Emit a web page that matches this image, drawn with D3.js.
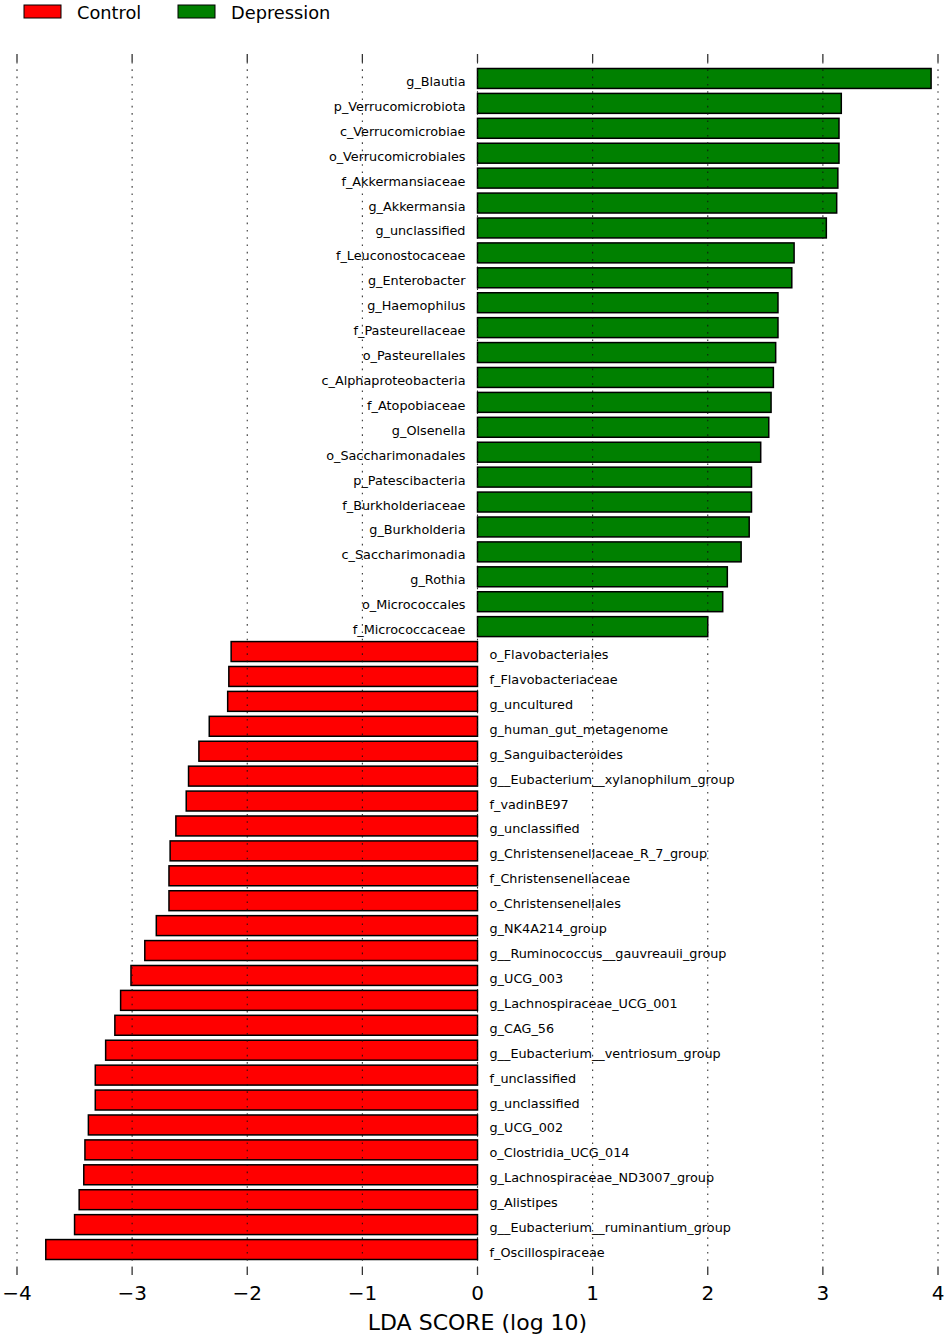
<!DOCTYPE html>
<html>
<head>
<meta charset="utf-8">
<script src="https://cdn.jsdelivr.net/npm/d3@7"></script>
<style>
  html,body{margin:0;padding:0;background:#fff;}
  svg{display:block;font-family:"DejaVu Sans",sans-serif;}
</style>
</head>
<body>
<div id="chart"></div>
<script>
// LEfSe result, top to bottom
const depressionTaxa = ['g_Blautia','p_Verrucomicrobiota','c_Verrucomicrobiae','o_Verrucomicrobiales',
  'f_Akkermansiaceae','g_Akkermansia','g_unclassified','f_Leuconostocaceae','g_Enterobacter',
  'g_Haemophilus','f_Pasteurellaceae','o_Pasteurellales','c_Alphaproteobacteria','f_Atopobiaceae',
  'g_Olsenella','o_Saccharimonadales','p_Patescibacteria','f_Burkholderiaceae','g_Burkholderia',
  'c_Saccharimonadia','g_Rothia','o_Micrococcales','f_Micrococcaceae'];
const depressionLDA = [3.94,3.16,3.14,3.14,3.13,3.12,3.03,2.75,2.73,2.61,2.61,2.59,2.57,2.55,
  2.53,2.46,2.38,2.38,2.36,2.29,2.17,2.13,2.00];

const controlTaxa = ['o_Flavobacteriales','f_Flavobacteriaceae','g_uncultured','g_human_gut_metagenome',
  'g_Sanguibacteroides','g__Eubacterium__xylanophilum_group','f_vadinBE97','g_unclassified',
  'g_Christensenellaceae_R_7_group','f_Christensenellaceae','o_Christensenellales','g_NK4A214_group',
  'g__Ruminococcus__gauvreauii_group','g_UCG_003','g_Lachnospiraceae_UCG_001','g_CAG_56',
  'g__Eubacterium__ventriosum_group','f_unclassified','g_unclassified','g_UCG_002',
  'o_Clostridia_UCG_014','g_Lachnospiraceae_ND3007_group','g_Alistipes',
  'g__Eubacterium__ruminantium_group','f_Oscillospiraceae'];
const controlLDA = [-2.14,-2.16,-2.17,-2.33,-2.42,-2.51,-2.53,-2.62,-2.67,-2.68,-2.68,-2.79,
  -2.89,-3.01,-3.10,-3.15,-3.23,-3.32,-3.32,-3.38,-3.41,-3.42,-3.46,-3.50,-3.75];

const groups = ['Control','Depression'];
const groupColors = ['#ff0000','#008000'];
const xTicks = [-4,-3,-2,-1,0,1,2,3,4];

const rows = depressionTaxa.map((t,i)=>({name:t,value:depressionLDA[i],group:'Depression'}))
  .concat(controlTaxa.map((t,i)=>({name:t,value:controlLDA[i],group:'Control'})));
rows.forEach((d,i)=>d.i=i);

const W=949, H=1339;
const svg=d3.select('#chart').append('svg').attr('width',W).attr('height',H);

const x=d3.scaleLinear().domain([-4,4]).range([17,938]);
const y=d3.scaleBand().domain(d3.range(rows.length)).range([68.5,1259.5]).paddingInner(0.2);
const color=d3.scaleOrdinal().domain(groups).range(groupColors);

const axTop=54, axBot=1275, tickLen=8;

// bars
svg.append('g').selectAll('rect').data(rows).join('rect')
  .attr('x',d=>x(Math.min(0,d.value)))
  .attr('y',d=>y(d.i))
  .attr('width',d=>Math.abs(x(d.value)-x(0)))
  .attr('height',y.bandwidth())
  .attr('fill',d=>color(d.group))
  .attr('stroke','#000').attr('stroke-width',1.5);

// labels on the opposite side of zero
svg.append('g').selectAll('text').data(rows).join('text')
  .attr('x',d=>d.value>0 ? x(0)-12 : x(0)+12)
  .attr('y',d=>y(d.i)+y.bandwidth()/2+3)
  .attr('text-anchor',d=>d.value>0?'end':'start')
  .attr('dominant-baseline','central')
  .attr('font-size',12.8).attr('fill','#000')
  .text(d=>d.name);

// dotted grid, drawn over the bars
svg.append('g').selectAll('line').data(xTicks).join('line')
  .attr('x1',d=>x(d)).attr('x2',d=>x(d))
  .attr('y1',axTop+tickLen).attr('y2',axBot-tickLen)
  .attr('stroke','#111').attr('stroke-opacity',0.85).attr('stroke-width',1.1)
  .attr('stroke-dasharray','1.6,5.7');

// tick marks top and bottom
const tk=svg.append('g').attr('stroke','#333').attr('stroke-width',1.3);
tk.selectAll('line.t').data(xTicks).join('line').attr('class','t')
  .attr('x1',d=>x(d)).attr('x2',d=>x(d)).attr('y1',axTop).attr('y2',axTop+tickLen);
tk.selectAll('line.b').data(xTicks).join('line').attr('class','b')
  .attr('x1',d=>x(d)).attr('x2',d=>x(d)).attr('y1',axBot-tickLen).attr('y2',axBot);

svg.append('g').selectAll('text').data(xTicks).join('text')
  .attr('x',d=>x(d)).attr('y',1300)
  .attr('text-anchor','middle').attr('font-size',20).attr('fill','#000')
  .text(d=>d<0 ? '\u2212'+Math.abs(d) : d);

svg.append('text').attr('x',x(0)).attr('y',1330)
  .attr('text-anchor','middle').attr('font-size',22).attr('fill','#000')
  .text('LDA SCORE (log 10)');

// legend
const leg=svg.append('g').selectAll('g').data(groups).join('g')
  .attr('transform',(d,i)=>`translate(${[24,178][i]},5)`);
leg.append('rect').attr('width',37).attr('height',13)
  .attr('fill',d=>color(d)).attr('stroke','#000').attr('stroke-width',1);
leg.append('text').attr('x',53).attr('y',13.5)
  .attr('font-size',17.8).attr('fill','#000').text(d=>d);
</script>
</body>
</html>
